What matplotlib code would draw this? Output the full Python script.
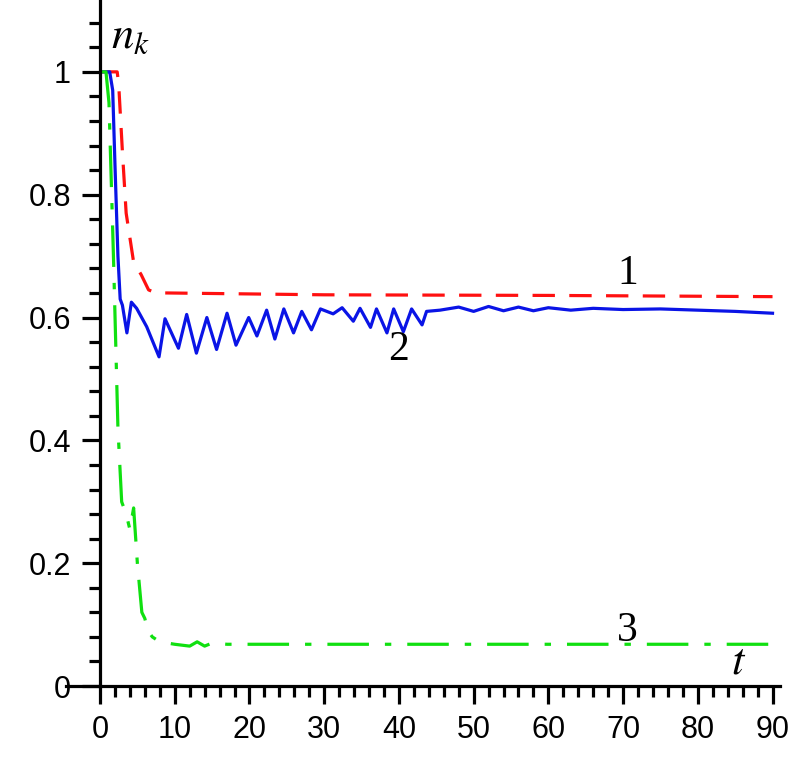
import numpy as np
import matplotlib.pyplot as plt
from matplotlib.ticker import MultipleLocator

plt.rcParams["mathtext.fontset"] = "stix"

# curve 1 (red dashed)
t1 = [0, 2.3, 2.5, 3.0, 3.5, 4.5, 5.5, 6.5, 7.5, 9, 30, 60, 90]
n1 = [1.0, 1.0, 0.98, 0.87, 0.77, 0.69, 0.67, 0.645, 0.64, 0.64, 0.637, 0.636, 0.634]

# curve 2 (blue solid)
t2 = [0, 1.3, 1.7, 2.0, 2.4, 2.7, 3.0, 3.6, 4.2, 4.9, 6.25, 7.9, 8.7, 10.5, 11.6, 12.9,
      14.3, 15.6, 17.0, 18.2, 19.9, 21.0, 22.3, 23.4, 24.6, 25.9, 27.0, 28.3, 29.5,
      31.2, 32.4, 33.9, 34.8, 36.2, 37.0, 38.4, 39.3, 40.6, 41.7, 43.1, 43.7, 45.5,
      48, 50, 52, 54, 56, 58, 60, 63, 66, 70, 75, 80, 85, 90]
n2 = [1.0, 1.0, 0.97, 0.85, 0.7, 0.63, 0.62, 0.575, 0.625, 0.615, 0.585, 0.536, 0.598,
      0.55, 0.605, 0.542, 0.600, 0.548, 0.607, 0.555, 0.600, 0.570, 0.612, 0.565,
      0.614, 0.575, 0.610, 0.580, 0.614, 0.606, 0.616, 0.594, 0.615, 0.584, 0.614,
      0.575, 0.614, 0.577, 0.614, 0.588, 0.610, 0.612,
      0.617, 0.610, 0.618, 0.611, 0.617, 0.611, 0.616, 0.612, 0.615, 0.613, 0.614,
      0.612, 0.610, 0.607]

# curve 3 (green dash-dot)
t3 = [0, 0.8, 1.2, 1.8, 2.4, 2.9, 3.5, 4.0, 4.5, 5.0, 5.6, 6.0, 6.4, 7.0, 8.0, 10,
      12, 13, 14, 15, 17, 90]
n3 = [1.0, 1.0, 0.95, 0.7, 0.42, 0.30, 0.28, 0.255, 0.29, 0.20, 0.12, 0.11, 0.09,
      0.08, 0.072, 0.068, 0.065, 0.072, 0.065, 0.07, 0.068, 0.068]

fig = plt.figure(figsize=(8, 7.73), dpi=100)
ax = fig.add_axes([0.125, 0.1125, 0.85, 0.8875])

ax.plot(t1, n1, color="#ff1010", lw=2.3, dashes=(7, 4.5))
ax.plot(t2, n2, color="#0a14e6", lw=2.3)
ax.plot(t3, n3, color="#10e010", lw=2.3, dashes=(13, 5, 2, 5))

ax.set_xlim(0, 91)
ax.set_ylim(0, 1.117)
for s in ["top", "right"]:
    ax.spines[s].set_visible(False)
for s in ["left", "bottom"]:
    ax.spines[s].set_linewidth(2.3)
# x-axis line runs a bit left of the y axis
ax.plot([-0.05, 0], [0, 0], transform=ax.transAxes, color="black", lw=2.3, clip_on=False)

ax.xaxis.set_major_locator(MultipleLocator(10))
ax.xaxis.set_minor_locator(MultipleLocator(2))
ax.yaxis.set_major_locator(MultipleLocator(0.2))
ax.yaxis.set_minor_locator(MultipleLocator(0.04))
ax.tick_params(which="major", direction="out", length=13, width=2.3, labelsize=22, pad=8)
ax.tick_params(which="minor", direction="out", length=8, width=2.3)
ax.set_yticks([0, 0.2, 0.4, 0.6, 0.8, 1.0])
ax.set_yticklabels(["0", "0.2", "0.4", "0.6", "0.8", "1"])
for lab in ax.get_xticklabels() + ax.get_yticklabels():
    lab.set_family("Liberation Sans")

ax.text(1.5, 1.06, r"$n_k$", fontsize=32, va="center")
ax.text(84.5, 0.04, r"$t$", fontsize=32, va="center")
ax.text(70.6, 0.672, "1", fontsize=30, family="Liberation Serif", va="center", ha="center")
ax.text(40, 0.548, "2", fontsize=30, family="Liberation Serif", va="center", ha="center")
ax.text(70.5, 0.09, "3", fontsize=30, family="Liberation Serif", va="center", ha="center")

fig.savefig("out.png", dpi=100)
